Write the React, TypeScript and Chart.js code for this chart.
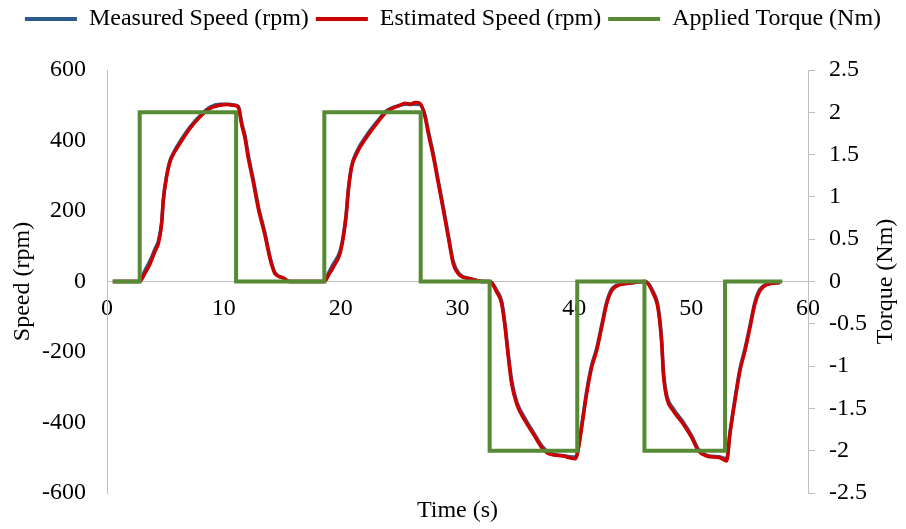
import React, { useEffect, useRef } from 'react';
import { Chart, registerables } from 'chart.js';

Chart.register(...registerables);

// ---- data ----
const speedTime = [
  0.5, 2.8, 3.2, 3.7, 4.1, 4.4, 4.68, 4.82, 5.1, 5.39,
  5.8, 6.25, 7.1, 7.96, 8.8, 9.67, 10.3, 10.8, 11.24, 11.53,
  11.81, 12.1, 12.52, 12.95, 13.52, 13.95, 14.38, 15.1, 15.6, 18.6,
  19.0, 19.37, 19.94, 20.23, 20.46, 20.66, 20.94, 21.37, 22.23, 23.08,
  23.94, 25.08, 25.5, 25.94, 26.4, 26.79, 27.22, 27.5, 27.93, 28.36,
  28.79, 29.21, 29.64, 30.21, 31.07, 32.2, 32.78, 33.35, 33.78, 34.07,
  34.35, 34.64, 35.07, 35.78, 36.5, 37.21, 37.92, 39.06, 39.6, 40.06,
  40.25, 40.63, 41.05, 41.48, 41.91, 42.34, 42.77, 43.2, 43.9, 44.77,
  46.05, 46.76, 47.19, 47.48, 47.62, 47.9, 48.47, 49.33, 50.05, 50.62,
  51.33, 52.47, 53.04, 53.32, 53.75, 54.18, 54.61, 55.04, 55.46, 55.89,
  56.46, 57.6,
];

const measuredSpeed = [
  0, 0, 28, 60, 92, 115, 170, 232, 300, 343,
  372, 397, 438, 470, 494, 503, 503, 501, 497, 450,
  414, 357, 290, 214, 138, 70, 25, 10, 0, 0,
  27, 50, 86, 132, 188, 262, 328, 368, 415, 452,
  485, 500, 503, 502, 503, 502, 472, 427, 362, 285,
  210, 133, 56, 20, 8, 0, 0, -25, -56, -122,
  -206, -282, -341, -389, -428, -466, -487, -494, -497, -498,
  -488, -408, -312, -238, -190, -124, -58, -22, -8, -4,
  0, -30, -75, -168, -252, -321, -361, -399, -438, -476,
  -493, -498, -503, -428, -332, -247, -190, -124, -58, -22,
  -8, -3,
];

const estimatedSpeed = [
  0, 0, 20, 51, 85, 108, 165, 230, 297, 339,
  368, 392, 434, 467, 491, 500, 502, 500, 494, 444,
  406, 349, 282, 207, 131, 65, 22, 10, 0, 0,
  20, 41, 79, 126, 183, 259, 325, 363, 410, 448,
  482, 500, 506, 503, 508, 505, 467, 420, 354, 278,
  202, 126, 50, 17, 8, 0, 0, -30, -63, -130,
  -215, -291, -348, -395, -433, -471, -490, -495, -500, -503,
  -490, -414, -319, -244, -196, -130, -63, -26, -9, -5,
  0, -35, -82, -177, -262, -329, -367, -405, -443, -481,
  -495, -500, -509, -433, -338, -253, -196, -130, -63, -26,
  -9, -3,
];

const torqueTime = [0.5, 2.8, 2.8, 11.05, 11.05, 18.6, 18.6, 26.85, 26.85, 32.75, 32.75, 40.25, 40.25, 46.0, 46.0, 52.9, 52.9, 57.8];
const appliedTorque = [0, 0, 2, 2, 0, 0, 2, 2, 0, 0, -2, -2, 0, 0, -2, -2, 0, 0];

const timeRange = [0, 60];
const timeStep = 10;
const speedRange = [-600, 600];
const speedStep = 200;
const torqueRange = [-2.5, 2.5];
const torqueStep = 0.5;

const seriesNames = ['Measured Speed (rpm)', 'Estimated Speed (rpm)', 'Applied Torque (Nm)'];
const axisTitles = { x: 'Time (s)', left: 'Speed (rpm)', right: 'Torque (Nm)' };

// ---- styling ----
const FAMILY = "'Liberation Serif', 'Times New Roman', serif";
const FONT = { family: FAMILY, size: 24 };
const TEXT = '#000000';
const AXIS = '#BFBFBF';
const BLUE = '#2E5B8D';
const RED = '#CC0000';
const GREEN = '#578A34';

const rightTitlePlugin = {
  id: 'rightTitle',
  afterDraw(chart: any) {
    const s = chart.scales.y1;
    const area = chart.chartArea;
    const ctx = chart.ctx;
    ctx.save();
    ctx.translate(s.right - 20, (area.top + area.bottom) / 2);
    ctx.rotate(-Math.PI / 2);
    ctx.font = `24px ${FAMILY}`;
    ctx.fillStyle = TEXT;
    ctx.textAlign = 'center';
    ctx.textBaseline = 'middle';
    ctx.fillText(axisTitles.right, 0, 0);
    ctx.restore();
  },
};

const fmt = (v: any) => String(Math.round(Number(v) * 10) / 10);

export default function App() {
  const ref = useRef<HTMLCanvasElement>(null);

  useEffect(() => {
    const canvas = ref.current;
    if (!canvas) return;
    const chart = new Chart(canvas, {
      type: 'line',
      data: {
        datasets: [
          {
            label: seriesNames[0],
            data: speedTime.map((t, i) => ({ x: t, y: measuredSpeed[i] })),
            borderColor: BLUE,
            backgroundColor: BLUE,
            borderWidth: 3.5,
            pointRadius: 0,
            cubicInterpolationMode: 'monotone',
            xAxisID: 'x',
            yAxisID: 'y',
            order: 2,
          },
          {
            label: seriesNames[1],
            data: speedTime.map((t, i) => ({ x: t, y: estimatedSpeed[i] })),
            borderColor: RED,
            backgroundColor: RED,
            borderWidth: 3.5,
            pointRadius: 0,
            cubicInterpolationMode: 'monotone',
            xAxisID: 'x',
            yAxisID: 'y',
            order: 1,
          },
          {
            label: seriesNames[2],
            data: torqueTime.map((t, i) => ({ x: t, y: appliedTorque[i] })),
            borderColor: GREEN,
            backgroundColor: GREEN,
            borderWidth: 4,
            pointRadius: 0,
            tension: 0,
            xAxisID: 'x',
            yAxisID: 'y1',
            order: 0,
          },
        ],
      },
      options: {
        responsive: false,
        animation: false,
        events: [],
        layout: { padding: 0 },
        plugins: {
          tooltip: { enabled: false },
          legend: {
            display: true,
            position: 'top',
            labels: {
              font: FONT,
              color: TEXT,
              boxWidth: 52,
              boxHeight: 4,
              padding: 7,
              sort: (a: any, b: any) => a.datasetIndex - b.datasetIndex,
              generateLabels: (c: any) =>
                Chart.defaults.plugins.legend.labels
                  .generateLabels(c)
                  .map((l: any) => ({ ...l, lineWidth: 0, fillStyle: l.strokeStyle })),
            },
          },
        },
        scales: {
          x: {
            type: 'linear',
            min: timeRange[0],
            max: timeRange[1],
            position: { y: 0 } as any,
            ticks: { stepSize: timeStep, padding: 13, font: FONT, color: TEXT, maxRotation: 0, autoSkip: false, callback: fmt },
            grid: { display: false, drawTicks: false },
            border: { display: true, color: AXIS, width: 1 },
          },
          xTop: {
            type: 'linear',
            position: 'top',
            min: 0,
            max: 1,
            ticks: { display: false },
            grid: { display: false, drawTicks: false },
            border: { display: false },
            afterFit: (s: any) => { s.height = 29; },
          },
          xBottom: {
            type: 'linear',
            position: 'bottom',
            min: 0,
            max: 1,
            ticks: { display: false },
            grid: { display: false, drawTicks: false },
            border: { display: false },
            title: { display: true, text: axisTitles.x, font: FONT, color: TEXT, padding: { top: 0, bottom: 4 } },
            afterFit: (s: any) => { s.height = 36; },
          },
          y: {
            type: 'linear',
            position: 'left',
            min: speedRange[0],
            max: speedRange[1],
            ticks: { stepSize: speedStep, padding: 21, font: FONT, color: TEXT, callback: fmt },
            grid: { display: false, drawTicks: false },
            border: { display: true, color: AXIS, width: 1 },
            title: { display: true, text: axisTitles.left, font: FONT, color: TEXT, padding: { top: 8, bottom: 0 } },
            afterFit: (s: any) => { s.width = 107; },
          },
          y1: {
            type: 'linear',
            position: 'right',
            min: torqueRange[0],
            max: torqueRange[1],
            ticks: { stepSize: torqueStep, padding: 14, font: FONT, color: TEXT, callback: fmt },
            grid: { display: true, drawOnChartArea: false, drawTicks: true, tickLength: 7, color: AXIS },
            border: { display: true, color: AXIS, width: 1 },
            title: { display: false },
            afterFit: (s: any) => { s.width = 98; },
          },
        },
      } as any,
      plugins: [rightTitlePlugin],
    });
    return () => chart.destroy();
  }, []);

  return (
    <div style={{ position: 'fixed', left: 0, top: 0, width: 906, height: 529, background: '#ffffff' }}>
      <canvas ref={ref} width={906} height={529} style={{ display: 'block', width: 906, height: 529 }} />
    </div>
  );
}
